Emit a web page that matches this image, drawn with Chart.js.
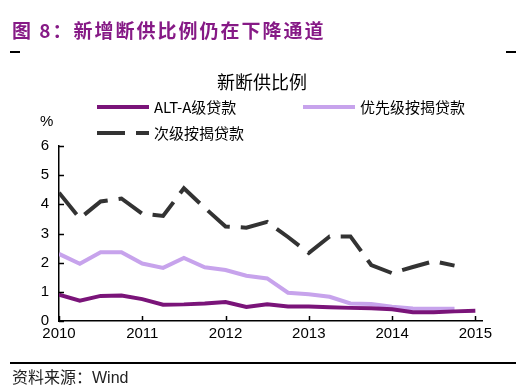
<!DOCTYPE html>
<html>
<head>
<meta charset="utf-8">
<script src="https://cdn.jsdelivr.net/npm/chart.js@4"></script>
<style>
    body { margin: 0; background: #fff; }
    #wrap { position: relative; width: 520px; height: 390px; overflow: hidden; }
    #chart { position: absolute; left: 0; top: 0; }
    .txt { position: absolute; white-space: nowrap; color: #000; }
    #head { left: 12px; top: 16px; font: bold 19px "Noto Sans CJK SC"; color: #861a86; letter-spacing: 2px; }
    #sub { left: 0; width: 524px; text-align: center; top: 68px; font: 18px "Noto Sans CJK SC"; }
    #unit { left: 40px; top: 112px; font: 15px "Liberation Sans"; }
    #src { left: 12px; top: 364px; font: 16px "Noto Sans CJK SC"; color: #222; }
    .rule { position: absolute; height: 1.5px; background: #000; }
</style>
</head>
<body>
<div id="wrap">
    <canvas id="chart" width="520" height="390"></canvas>
    <div class="txt" id="head">图 8：新增断供比例仍在下降通道</div>
    <div class="rule" style="left:10px;top:51px;width:10px"></div>
    <div class="rule" style="left:506px;top:51px;width:10px"></div>
    <div class="txt" id="sub">新断供比例</div>
    <div class="txt" id="unit">%</div>
    <div class="rule" style="left:10px;top:362px;width:506px"></div>
    <div class="txt" id="src">资料来源：<span style="font-family:'Liberation Sans'">Wind</span></div>
</div>
<script>
// quarterly observations, decimal years
const quarters = [2010.0, 2010.25, 2010.5, 2010.75, 2011.0, 2011.25, 2011.5, 2011.75,
    2012.0, 2012.25, 2012.5, 2012.75, 2013.0, 2013.25, 2013.5, 2013.75,
    2014.0, 2014.25, 2014.5, 2014.75, 2015.0];
const altA = [0.9, 0.7, 0.86, 0.87, 0.75, 0.56, 0.57, 0.6, 0.65, 0.48, 0.57, 0.5,
    0.5, 0.47, 0.45, 0.44, 0.4, 0.3, 0.3, 0.33, 0.35];
const prime = [2.3, 1.96, 2.36, 2.36, 1.97, 1.82, 2.16, 1.84, 1.75, 1.55, 1.46, 0.97,
    0.92, 0.83, 0.6, 0.58, 0.49, 0.43, 0.42, 0.42, null];
const subprime = [4.4, 3.52, 4.1, 4.2, 3.68, 3.6, 4.55, 3.88, 3.24, 3.2, 3.4, 2.88,
    2.33, 2.9, 2.9, 1.92, 1.64, 1.85, 2.05, 1.9, null];
const yearTicks = [2010, 2011, 2012, 2013, 2014, 2015];
const yTicks = [0, 1, 2, 3, 4, 5, 6];
const seriesNames = ['ALT-A级贷款', '优先级按揭贷款', '次级按揭贷款'];

const toPoints = arr => arr.map((v, i) => ({ x: quarters[i], y: v }));

// inward tick marks + custom two-row legend
const extras = {
    id: 'extras',
    afterDraw(chart) {
        const ctx = chart.ctx;
        const xs = chart.scales.x, ys = chart.scales.y;
        ctx.save();
        ctx.strokeStyle = '#000';
        ctx.lineWidth = 1.5;
        yearTicks.forEach(t => {
            const px = Math.round(xs.getPixelForValue(t)) + 0.5;
            ctx.beginPath();
            ctx.moveTo(px, ys.bottom);
            ctx.lineTo(px, ys.bottom - 5);
            ctx.stroke();
        });
        yTicks.forEach(t => {
            const py = Math.round(ys.getPixelForValue(t)) + 0.5;
            ctx.beginPath();
            ctx.moveTo(xs.left, py);
            ctx.lineTo(xs.left + 5, py);
            ctx.stroke();
        });
        const spots = [[97, 107], [303, 107], [97, 133]];
        ctx.font = '15px "Noto Sans CJK SC"';
        ctx.textBaseline = 'middle';
        ctx.fillStyle = '#000';
        chart.data.datasets.forEach((ds, i) => {
            const [lx, ly] = spots[i];
            ctx.strokeStyle = ds.borderColor;
            ctx.lineWidth = ds.borderWidth;
            ctx.setLineDash(ds.borderDash || []);
            ctx.beginPath();
            ctx.moveTo(lx, ly);
            ctx.lineTo(lx + 52, ly);
            ctx.stroke();
            ctx.setLineDash([]);
            ctx.fillText(ds.label, lx + 57, ly);
        });
        ctx.restore();
    }
};

new Chart(document.getElementById('chart'), {
    type: 'line',
    data: {
        datasets: [
            { label: seriesNames[0], data: toPoints(altA), borderColor: '#7a1479', borderWidth: 4 },
            { label: seriesNames[1], data: toPoints(prime), borderColor: '#c7a3ec', borderWidth: 4 },
            { label: seriesNames[2], data: toPoints(subprime), borderColor: '#333333', borderWidth: 4, borderDash: [28, 11] }
        ]
    },
    options: {
        responsive: false,
        animation: false,
        layout: { padding: { top: 146, right: 38, left: 0, bottom: 0 } },
        elements: { point: { radius: 0 }, line: { tension: 0, borderCapStyle: 'butt' } },
        plugins: { legend: { display: false }, tooltip: { enabled: false } },
        scales: {
            x: {
                type: 'linear',
                min: 2010,
                max: 2015.08,
                afterBuildTicks: s => { s.ticks = yearTicks.map(v => ({ value: v })); },
                afterFit: s => { s.height = 69; },
                grid: { display: false, drawTicks: false },
                border: { color: '#000', width: 1.5 },
                ticks: {
                    color: '#000', padding: 4, maxRotation: 0,
                    font: { family: 'Liberation Sans', size: 15 },
                    callback: v => String(v)
                }
            },
            y: {
                min: 0,
                max: 6,
                afterBuildTicks: s => { s.ticks = yTicks.map(v => ({ value: v })); },
                afterFit: s => { s.width = 59; },
                grid: { display: false, drawTicks: false },
                border: { color: '#000', width: 1.5 },
                ticks: {
                    color: '#000', padding: 10,
                    font: { family: 'Liberation Sans', size: 15 }
                }
            }
        }
    },
    plugins: [extras]
});
</script>
</body>
</html>
